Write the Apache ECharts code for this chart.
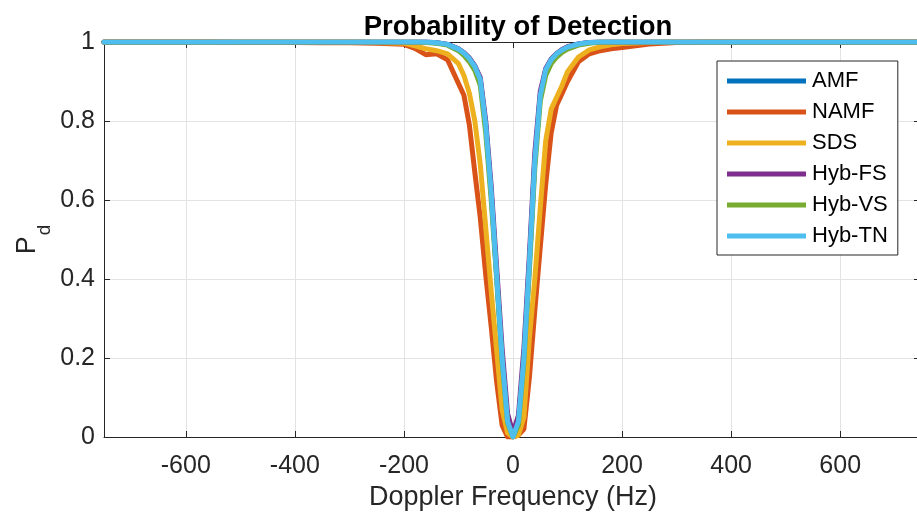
<!DOCTYPE html>
<html>
<head>
<meta charset="utf-8">
<script src="https://cdn.jsdelivr.net/npm/echarts@6/dist/echarts.min.js"></script>
<style>
  html, body { margin: 0; padding: 0; background: #ffffff; }
  #chart { width: 917px; height: 514px; }
</style>
</head>
<body>
<div id="chart"></div>
<script>
// Doppler frequency grid (Hz), denser around the clutter notch
const freq = [-750,-700,-650,-600,-550,-500,-450,-400,-350,-300,-250,-200,
  -180,-160,-140,-120,
  -100,-90,-80,-70,-60,-50,-40,-30,-20,-10,
  0,
  10,20,30,40,50,60,70,80,90,100,
  120,140,160,180,
  200,250,300,350,400,450,500,550,600,650,700,750];

// Probability of detection per detector
const pdAMF = [1,1,1,1,1,1,1,1,1,1,1,1,
  1,1,0.998,0.994,
  0.982,0.972,0.958,0.938,0.905,0.79,0.62,0.41,0.2,0.04,
  0,
  0.04,0.2,0.44,0.7,0.865,0.93,0.955,0.97,0.98,0.987,
  0.995,0.999,1,1,
  1,1,1,1,1,1,1,1,1,1,1,1];

const pdNAMF = [1,1,1,1,1,0.999,0.999,0.999,0.998,0.998,0.997,0.994,
  0.984,0.968,0.97,0.955,
  0.895,0.865,0.79,0.67,0.555,0.41,0.28,0.14,0.03,0.0,
  0,
  0.005,0.02,0.15,0.32,0.48,0.64,0.77,0.84,0.87,0.9,
  0.95,0.97,0.978,0.983,
  0.986,0.995,0.999,1,1,1,1,1,1,1,1,1];

const pdSDS = [1,1,1,1,1,1,1,1,1,1,0.999,0.997,
  0.99,0.983,0.978,0.97,
  0.945,0.915,0.87,0.8,0.69,0.53,0.37,0.22,0.07,0.01,
  0,
  0.005,0.05,0.25,0.4,0.58,0.75,0.83,0.86,0.89,0.925,
  0.962,0.98,0.988,0.993,
  0.996,0.999,1,1,1,1,1,1,1,1,1,1];

const pdHybFS = [1,1,1,1,1,1,1,1,1,1,1,1,
  1,1,0.998,0.994,
  0.983,0.973,0.96,0.94,0.91,0.8,0.635,0.43,0.225,0.06,
  0.01,
  0.055,0.225,0.46,0.72,0.875,0.933,0.957,0.971,0.981,0.988,
  0.995,0.999,1,1,
  1,1,1,1,1,1,1,1,1,1,1,1];

const pdHybVS = [1,1,1,1,1,1,1,1,1,1,1,1,
  1,0.999,0.997,0.992,
  0.978,0.966,0.95,0.928,0.89,0.77,0.6,0.4,0.19,0.035,
  0,
  0.03,0.19,0.42,0.68,0.85,0.915,0.945,0.962,0.974,0.982,
  0.992,0.997,1,1,
  1,1,1,1,1,1,1,1,1,1,1,1];

const pdHybTN = [1,1,1,1,1,1,1,1,1,1,1,1,
  1,1,0.998,0.994,
  0.982,0.972,0.958,0.938,0.905,0.79,0.62,0.41,0.2,0.04,
  0,
  0.04,0.2,0.44,0.7,0.865,0.93,0.955,0.97,0.98,0.987,
  0.995,0.999,1,1,
  1,1,1,1,1,1,1,1,1,1,1,1];

const seriesNames = ['AMF', 'NAMF', 'SDS', 'Hyb-FS', 'Hyb-VS', 'Hyb-TN'];
const seriesValues = [pdAMF, pdNAMF, pdSDS, pdHybFS, pdHybVS, pdHybTN];
const seriesColors = ['#0072BD', '#D95319', '#EDB120', '#7E2F8E', '#77AC30', '#4DBEEE'];

const xTicks = [-600, -400, -200, 0, 200, 400, 600];

const FONT = '"Liberation Sans", Arial, Helvetica, sans-serif';
const AXIS_COLOR = '#262626';
const GRID_COLOR = '#e3e3e3';

const chart = echarts.init(document.getElementById('chart'), null, { renderer: 'canvas' });

const series = seriesNames.map((name, k) => ({
  name: name,
  type: 'line',
  xAxisIndex: 0,
  yAxisIndex: 0,
  symbol: 'none',
  smooth: false,
  clip: true,
  lineStyle: { width: 5, color: seriesColors[k], join: 'round', cap: 'round' },
  itemStyle: { color: seriesColors[k] },
  emphasis: { disabled: true },
  z: 2 + k,
  data: freq.map((f, i) => [f, seriesValues[k][i]])
}));

const option = {
  animation: false,
  backgroundColor: '#ffffff',
  textStyle: { fontFamily: FONT },
  title: {
    text: 'Probability of Detection',
    left: 513,
    top: 8,
    textAlign: 'center',
    textStyle: { fontFamily: FONT, fontSize: 27.5, fontWeight: 'bold', color: '#000000' }
  },
  legend: {
    orient: 'vertical',
    left: 717,
    top: 61,
    width: 183,
    padding: [9, 10, 8, 10],
    itemWidth: 79,
    itemHeight: 5,
    itemGap: 9,
    icon: 'rect',
    borderColor: AXIS_COLOR,
    borderWidth: 1,
    backgroundColor: '#ffffff',
    data: seriesNames,
    textStyle: { fontFamily: FONT, fontSize: 22, color: '#000000', padding: [0, 0, 0, 1] }
  },
  grid: {
    left: 104,
    top: 42,
    width: 818,
    height: 395,
    containLabel: false,
    outerBoundsMode: 'none'
  },
  xAxis: [{
    type: 'value',
    position: 'bottom',
    min: -750,
    max: 750,
    name: 'Doppler Frequency (Hz)',
    nameLocation: 'middle',
    nameGap: 47,
    nameMoveOverlap: false,
    nameTextStyle: { fontFamily: FONT, fontSize: 27, color: AXIS_COLOR },
    axisLine: { show: true, onZero: false, lineStyle: { color: AXIS_COLOR, width: 1 } },
    axisTick: { show: true, inside: true, length: 6, customValues: xTicks, lineStyle: { color: AXIS_COLOR } },
    axisLabel: { show: true, margin: 17, customValues: xTicks, fontFamily: FONT, fontSize: 25, color: AXIS_COLOR },
    splitLine: { show: true, lineStyle: { color: GRID_COLOR, width: 1 } }
  }, {
    type: 'value',
    position: 'top',
    min: -750,
    max: 750,
    axisLine: { show: true, onZero: false, lineStyle: { color: AXIS_COLOR, width: 1 } },
    axisTick: { show: true, inside: true, length: 6, customValues: xTicks, lineStyle: { color: AXIS_COLOR } },
    axisLabel: { show: false },
    splitLine: { show: false }
  }],
  yAxis: [{
    type: 'value',
    position: 'left',
    min: 0,
    max: 1,
    interval: 0.2,
    name: '{p|P}{s|d}',
    nameLocation: 'middle',
    nameRotate: 90,
    nameGap: 50,
    nameMoveOverlap: false,
    nameTextStyle: {
      fontFamily: FONT,
      color: AXIS_COLOR,
      rich: {
        p: { fontFamily: FONT, fontSize: 27, color: AXIS_COLOR },
        s: { fontFamily: FONT, fontSize: 19, color: AXIS_COLOR, padding: [34, 0, 0, 1] }
      }
    },
    axisLine: { show: true, onZero: false, lineStyle: { color: AXIS_COLOR, width: 1 } },
    axisTick: { show: true, inside: true, length: 6, lineStyle: { color: AXIS_COLOR } },
    axisLabel: { show: true, margin: 9, fontFamily: FONT, fontSize: 25, color: AXIS_COLOR },
    splitLine: { show: true, lineStyle: { color: GRID_COLOR, width: 1 } }
  }, {
    type: 'value',
    position: 'right',
    min: 0,
    max: 1,
    interval: 0.2,
    axisLine: { show: true, onZero: false, lineStyle: { color: AXIS_COLOR, width: 1 } },
    axisTick: { show: true, inside: true, length: 8, lineStyle: { color: AXIS_COLOR } },
    axisLabel: { show: false },
    splitLine: { show: false }
  }],
  series: series
};

chart.setOption(option);
</script>
</body>
</html>
